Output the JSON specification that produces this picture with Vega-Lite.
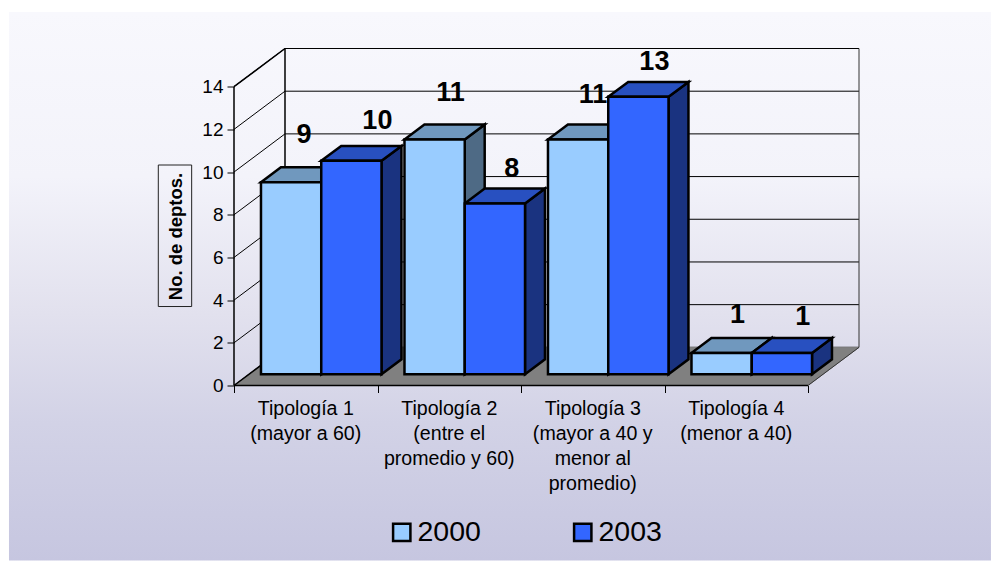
{
"$schema":"https://vega.github.io/schema/vega-lite/v6.json",
"width":625,"height":337,
"autosize":{"type":"none"},
"padding":{"left":234,"top":48.5,"right":132,"bottom":175.5},
"background":"white",
"config":{"view":{"stroke":null},"font":"Liberation Sans"},
"datasets":{
"bars":[
{"tipologia":1,"year":"2000","value":9},
{"tipologia":1,"year":"2003","value":10},
{"tipologia":2,"year":"2000","value":11},
{"tipologia":2,"year":"2003","value":8},
{"tipologia":3,"year":"2000","value":11},
{"tipologia":3,"year":"2003","value":13},
{"tipologia":4,"year":"2000","value":1},
{"tipologia":4,"year":"2003","value":1}
],
"cats":[
{"tipologia":1,"label":"Tipología 1\n(mayor a 60)"},
{"tipologia":2,"label":"Tipología 2\n(entre el\npromedio y 60)"},
{"tipologia":3,"label":"Tipología 3\n(mayor a 40 y\nmenor al\npromedio)"},
{"tipologia":4,"label":"Tipología 4\n(menor a 40)"}
],
"ticks":[{"v":0},{"v":2},{"v":4},{"v":6},{"v":8},{"v":10},{"v":12},{"v":14}],
"panel":[{"panel":"p"}]
},
"encoding":{
"x":{"field":"x","type":"quantitative","scale":{"domain":[0,4.3554],"nice":false,"zero":false},
"axis":{"zindex":1,"values":[0,1,2,3,4],"labels":false,"title":null,"grid":false,"domain":false,"tickSize":7,"tickColor":"#000","tickWidth":1}},
"y":{"field":"y","type":"quantitative","stack":null,"scale":{"domain":[0,15.788],"nice":false,"zero":false},
"axis":{"zindex":1,"values":[0,2,4,6,8,10,12,14],"title":"No. de deptos.","titleFont":"Liberation Sans","titleFontSize":18.5,"titleFontWeight":"bold","titleColor":"#000","titleX":-53,"titleY":187.5,"titleAngle":270,"titleAlign":"center","titleBaseline":"alphabetic","grid":false,"domain":false,"tickSize":7,"tickColor":"#000","tickWidth":1,"labelFont":"Liberation Sans","labelFontSize":19,"labelColor":"#000","labelPadding":4}}
},
"layer":[
{"data":{"name":"panel"},
"transform":[{"calculate":"-1.568","as":"x"},{"calculate":"5.275","as":"x2"},{"calculate":"17.5","as":"y"},{"calculate":"-8.2","as":"y2"}],
"mark":{"type":"rect","fill":{"x1":0,"y1":0,"x2":0,"y2":1,"gradient":"linear","stops":[{"offset":0,"color":"#F8F8FD"},{"offset":0.3,"color":"#F3F3FA"},{"offset":0.55,"color":"#E2E1EE"},{"offset":0.75,"color":"#D2D2E6"},{"offset":1,"color":"#C6C6E0"}]}},
"encoding":{"x2":{"field":"x2"},"y2":{"field":"y2"}}},
{"data":{"name":"panel"},
"transform":[{"calculate":"-0.5275","as":"x"},{"calculate":"-0.295","as":"x2"},{"calculate":"3.7","as":"y"},{"calculate":"10.33","as":"y2"}],
"mark":{"type":"rect","fill":"transparent","stroke":"#222","strokeWidth":1},
"encoding":{"x2":{"field":"x2"},"y2":{"field":"y2"}}},
{"data":{"name":"ticks"},
"transform":[{"calculate":"0.3554","as":"x"},{"calculate":"4.3554","as":"x2"},{"calculate":"datum.v+1.788","as":"y"}],
"mark":{"type":"rule","stroke":"#000","strokeWidth":1},
"encoding":{"x2":{"field":"x2"}}},
{"data":{"name":"ticks"},
"transform":[{"calculate":"0","as":"x"},{"calculate":"0.3554","as":"x2"},{"calculate":"datum.v","as":"y"},{"calculate":"datum.v+1.788","as":"y2"}],
"mark":{"type":"rule","stroke":"#000","strokeWidth":1},
"encoding":{"x2":{"field":"x2"},"y2":{"field":"y2"}}},
{"data":{"name":"panel"},
"transform":[{"calculate":"[0,0.3554,4,4.3554]","as":"x"},{"flatten":["x"]},{"calculate":"datum.x==0?0:1.788","as":"y"},{"calculate":"datum.x==4.3554?1.788:0","as":"y2"}],
"mark":{"type":"area","fill":"#808080","stroke":"#808080","strokeWidth":1},
"encoding":{"y2":{"field":"y2"}}},
{"data":{"name":"ticks"},
"transform":[{"filter":"datum.v==0"},{"calculate":"0","as":"x"},{"calculate":"0.3554","as":"x2"},{"calculate":"0","as":"y"},{"calculate":"1.788","as":"y2"}],
"mark":{"type":"rule","stroke":"#000","strokeWidth":1.5},
"encoding":{"x2":{"field":"x2"},"y2":{"field":"y2"}}},
{"data":{"name":"ticks"},
"transform":[{"filter":"datum.v==14"},{"calculate":"0","as":"x"},{"calculate":"0.3554","as":"x2"},{"calculate":"14","as":"y"},{"calculate":"15.788","as":"y2"}],
"mark":{"type":"rule","stroke":"#000","strokeWidth":1.5},
"encoding":{"x2":{"field":"x2"},"y2":{"field":"y2"}}},
{"data":{"name":"ticks"},
"transform":[{"filter":"datum.v==0"},{"calculate":"4","as":"x"},{"calculate":"4.3554","as":"x2"},{"calculate":"0","as":"y"},{"calculate":"1.788","as":"y2"}],
"mark":{"type":"rule","stroke":"#333","strokeWidth":1},
"encoding":{"x2":{"field":"x2"},"y2":{"field":"y2"}}},
{"data":{"name":"ticks"},
"transform":[{"filter":"datum.v==0"},{"calculate":"0","as":"x"},{"calculate":"4","as":"x2"},{"calculate":"0","as":"y"}],
"mark":{"type":"rule","stroke":"#000","strokeWidth":1.5},
"encoding":{"x2":{"field":"x2"}}},
{"data":{"name":"ticks"},
"transform":[{"filter":"datum.v==0"},{"calculate":"0","as":"x"},{"calculate":"0","as":"y"},{"calculate":"14","as":"y2"}],
"mark":{"type":"rule","stroke":"#000","strokeWidth":1.5},
"encoding":{"y2":{"field":"y2"}}},
{"data":{"name":"ticks"},
"transform":[{"filter":"datum.v==0"},{"calculate":"0.3554","as":"x"},{"calculate":"1.788","as":"y"},{"calculate":"15.788","as":"y2"}],
"mark":{"type":"rule","stroke":"#000","strokeWidth":1.5},
"encoding":{"y2":{"field":"y2"}}},
{"data":{"name":"ticks"},
"transform":[{"filter":"datum.v==0"},{"calculate":"4.3554","as":"x"},{"calculate":"1.788","as":"y"},{"calculate":"15.788","as":"y2"}],
"mark":{"type":"rule","stroke":"#333","strokeWidth":1},
"encoding":{"y2":{"field":"y2"}}},
{"data":{"name":"bars"},
"transform":[
{"calculate":"datum.tipologia-1+0.188+(datum.year=='2003'?0.42:0)","as":"x0"},
{"calculate":"datum.value+0.524","as":"v"},
{"calculate":"[0,1]","as":"t"},{"flatten":["t"]},
{"calculate":"datum.x0+0.42+datum.t*0.139","as":"x"},
{"calculate":"datum.v+datum.t*0.70","as":"y"},
{"calculate":"0.524+datum.t*0.70","as":"y2"},
{"calculate":"datum.tipologia+'-'+datum.year","as":"id"}
],
"mark":{"type":"area","stroke":"#000","strokeWidth":2.5,"strokeJoin":"miter"},
"encoding":{"y2":{"field":"y2"},"detail":{"field":"id"},"fill":{"condition":{"test":"datum.year=='2000'","value":"#4E6A85"},"value":"#1A3380"}}},
{"data":{"name":"bars"},
"transform":[
{"calculate":"datum.tipologia-1+0.188+(datum.year=='2003'?0.42:0)","as":"x0"},
{"calculate":"datum.value+0.524","as":"v"},
{"calculate":"[0,1,2,3]","as":"t"},{"flatten":["t"]},
{"calculate":"datum.x0+[0,0.139,0.42,0.559][datum.t]","as":"x"},
{"calculate":"datum.v+(datum.t==0?0:0.70)","as":"y"},
{"calculate":"datum.v+(datum.t==3?0.70:0)","as":"y2"},
{"calculate":"datum.tipologia+'-'+datum.year","as":"id"}
],
"mark":{"type":"area","stroke":"#000","strokeWidth":2.5,"strokeJoin":"miter"},
"encoding":{"y2":{"field":"y2"},"detail":{"field":"id"},"fill":{"condition":{"test":"datum.year=='2000'","value":"#7098BE"},"value":"#2850C0"}}},
{"data":{"name":"bars"},
"transform":[
{"calculate":"datum.tipologia-1+0.188+(datum.year=='2003'?0.42:0)","as":"x"},
{"calculate":"datum.x+0.42","as":"x2"},
{"calculate":"datum.value+0.524","as":"y"},
{"calculate":"0.524","as":"y2"}
],
"mark":{"type":"rect","stroke":"#000","strokeWidth":2.5},
"encoding":{"x2":{"field":"x2"},"y2":{"field":"y2"},
"color":{"field":"year","type":"nominal","scale":{"domain":["2000","2003"],"range":["#99CCFF","#3366FF"]},
"legend":{"title":null,"orient":"none","legendX":153.5,"legendY":469.5,"direction":"horizontal","symbolType":"square","symbolSize":300,"symbolStrokeWidth":2.5,"symbolStrokeColor":"#000","symbolOpacity":1,"labelFont":"Liberation Sans","labelFontSize":28.5,"labelColor":"#000","labelOffset":1.5,"columnPadding":87,"labelLimit":200}}}},
{"data":{"name":"bars"},
"transform":[
{"calculate":"datum.tipologia-1+0.188+(datum.year=='2003'?0.42:0)+0.21+[[13,26],[16,17],[15,16],[16,21]][datum.tipologia-1][datum.year=='2003'?1:0]/143.5","as":"x"},
{"calculate":"datum.value+0.524+[[39,32],[39,27],[37,27],[30,28]][datum.tipologia-1][datum.year=='2003'?1:0]/21.36","as":"y"}
],
"mark":{"type":"text","font":"Liberation Sans","fontSize":27,"fontWeight":"bold","color":"#000","align":"center","baseline":"alphabetic"},
"encoding":{"text":{"field":"value","type":"quantitative"}}},
{"data":{"name":"cats"},
"transform":[
{"calculate":"datum.tipologia-0.5","as":"x"},
{"calculate":"-1.372","as":"y"}
],
"mark":{"type":"text","font":"Liberation Sans","fontSize":19.6,"color":"#000","align":"center","baseline":"alphabetic","lineBreak":"\n","lineHeight":25},
"encoding":{"text":{"field":"label","type":"nominal"}}}
]
}
